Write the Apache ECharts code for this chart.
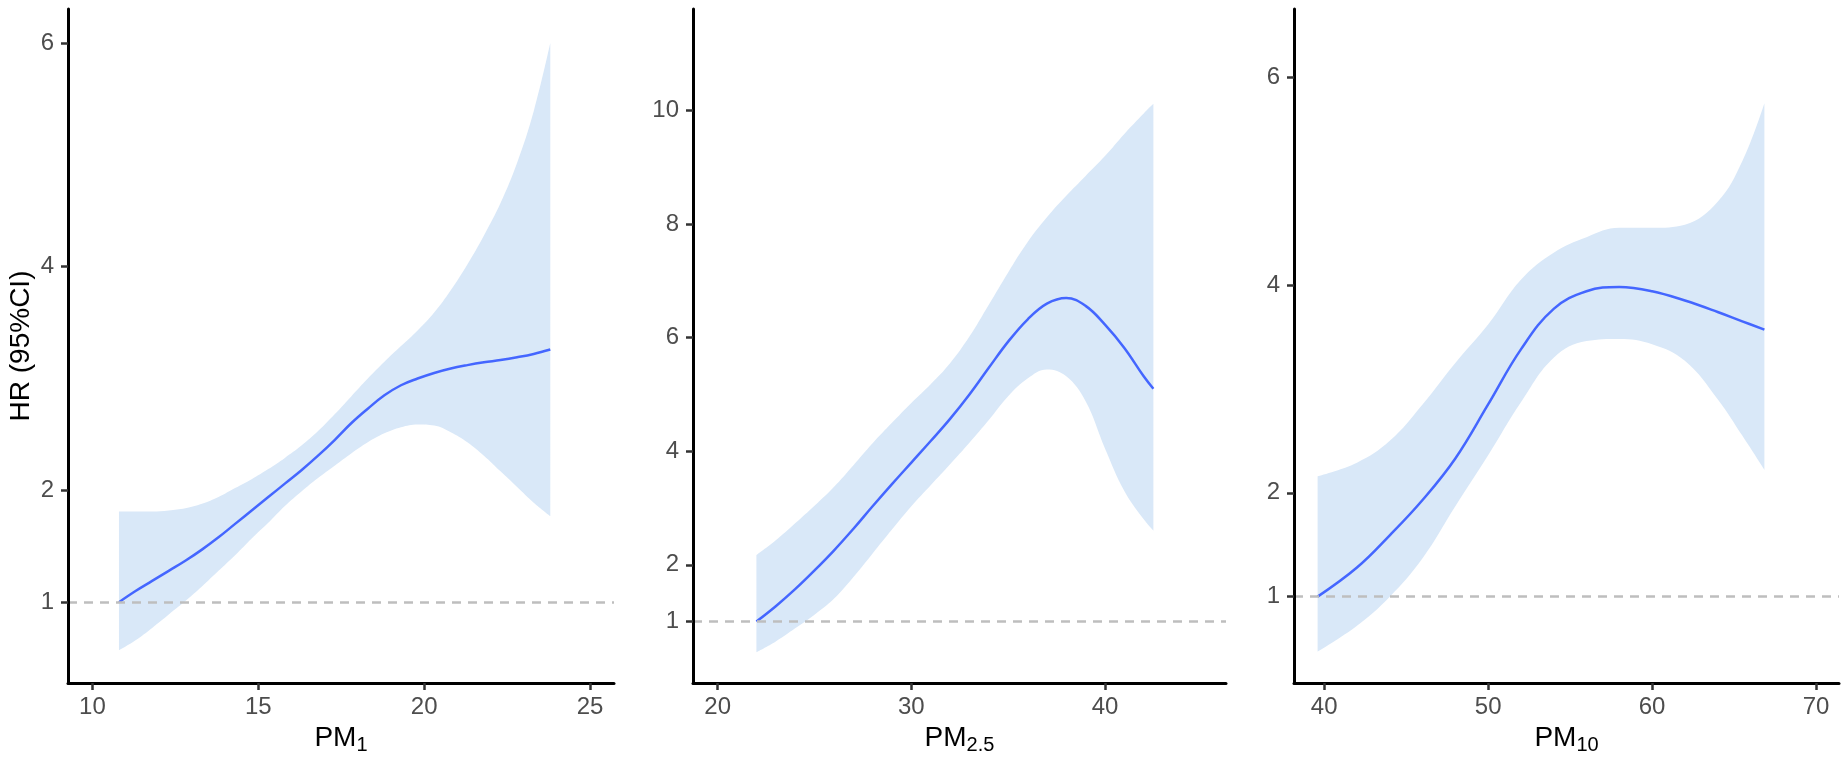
<!DOCTYPE html>
<html>
<head>
<meta charset="utf-8">
<script src="https://cdn.jsdelivr.net/npm/echarts@6/dist/echarts.min.js"></script>
<style>
html,body{margin:0;padding:0;background:#fff;}
#chart{width:1845px;height:764px;}
</style>
</head>
<body>
<div id="chart"></div>
<script>
// ---------- Panel 1: PM1 ----------
const pm1X     = [10.8, 11.3, 11.8, 12.3, 12.8, 13.3, 13.8, 14.3, 14.8, 15.3, 15.8, 16.3, 16.8, 17.3, 17.8, 18.3, 18.8, 19.3, 19.8, 20.3, 20.8, 21.3, 21.8, 22.3, 22.8, 23.3, 23.8];
const pm1Fit   = [1.00, 1.10, 1.19, 1.28, 1.37, 1.47, 1.58, 1.70, 1.82, 1.94, 2.06, 2.18, 2.31, 2.45, 2.60, 2.73, 2.85, 2.94, 3.00, 3.05, 3.09, 3.12, 3.145, 3.165, 3.19, 3.22, 3.26];
const pm1Lower = [0.57, 0.66, 0.77, 0.89, 1.01, 1.14, 1.28, 1.42, 1.57, 1.71, 1.86, 1.99, 2.11, 2.22, 2.33, 2.43, 2.51, 2.565, 2.59, 2.58, 2.52, 2.43, 2.31, 2.17, 2.03, 1.89, 1.77];
const pm1Upper = [1.81, 1.81, 1.81, 1.82, 1.84, 1.88, 1.94, 2.02, 2.10, 2.19, 2.29, 2.40, 2.53, 2.68, 2.84, 3.00, 3.15, 3.29, 3.43, 3.59, 3.79, 4.02, 4.28, 4.57, 4.93, 5.39, 6.00];
const pm1XTicks = [10, 15, 20, 25];
const pm1YTicks = [1, 2, 4, 6];

// ---------- Panel 2: PM2.5 ----------
const pm25X     = [22, 23, 24, 25, 26, 27, 28, 29, 30, 31, 32, 33, 34, 35, 36, 37, 38, 39, 40, 41, 42, 42.5];
const pm25Fit   = [1.00, 1.27, 1.57, 1.90, 2.25, 2.63, 3.03, 3.42, 3.80, 4.18, 4.57, 5.00, 5.47, 5.93, 6.32, 6.60, 6.70, 6.56, 6.23, 5.82, 5.32, 5.10];
const pm25Lower = [0.46, 0.65, 0.88, 1.12, 1.40, 1.78, 2.20, 2.62, 3.03, 3.40, 3.77, 4.15, 4.55, 4.97, 5.28, 5.44, 5.32, 4.88, 4.05, 3.30, 2.80, 2.60];
const pm25Upper = [2.17, 2.43, 2.73, 3.04, 3.37, 3.75, 4.14, 4.50, 4.85, 5.18, 5.55, 6.02, 6.58, 7.15, 7.68, 8.12, 8.50, 8.85, 9.20, 9.59, 9.95, 10.12];
const pm25XTicks = [20, 30, 40];
const pm25YTicks = [1, 2, 4, 6, 8, 10];

// ---------- Panel 3: PM10 ----------
const pm10X     = [39.6, 42, 44, 46, 48, 50, 52, 54, 56, 58, 60, 62, 64, 65.5, 66.85];
const pm10Fit   = [1.00, 1.28, 1.59, 1.93, 2.33, 2.85, 3.38, 3.77, 3.94, 3.98, 3.94, 3.85, 3.74, 3.65, 3.57];
const pm10Lower = [0.47, 0.72, 1.00, 1.37, 1.87, 2.36, 2.87, 3.30, 3.46, 3.48, 3.43, 3.27, 2.90, 2.55, 2.22];
const pm10Upper = [2.16, 2.29, 2.50, 2.85, 3.25, 3.62, 4.05, 4.31, 4.46, 4.55, 4.55, 4.58, 4.80, 5.19, 5.75];
const pm10XTicks = [40, 50, 60, 70];
const pm10YTicks = [1, 2, 4, 6];

const xTitles = ['{a|PM}{b|1}', '{a|PM}{b|2.5}', '{a|PM}{b|10}'];
const yTitle = 'HR (95%CI)';
const refValue = 1;

const FONT = "'Liberation Sans', Arial, sans-serif";
const LINE_COLOR = '#4466ff';
const BAND_COLOR = '#d9e8f8';

const panels = [
  {x: pm1X, fit: pm1Fit, lo: pm1Lower, hi: pm1Upper, xt: pm1XTicks, yt: pm1YTicks,
   xr: [9.264, 25.72], yr: [0.277, 6.305], grid: {left: 68, right: 1231}},
  {x: pm25X, fit: pm25Fit, lo: pm25Lower, hi: pm25Upper, xt: pm25XTicks, yt: pm25YTicks,
   xr: [18.725, 46.25], yr: [-0.083, 11.79], grid: {left: 693, right: 619}},
  {x: pm10X, fit: pm10Fit, lo: pm10Lower, hi: pm10Upper, xt: pm10XTicks, yt: pm10YTicks,
   xr: [38.16, 71.40], yr: [0.169, 6.656], grid: {left: 1294, right: 6}}
];

const grids = [], xAxes = [], yAxes = [], series = [];
const axisLine = {show: true, onZero: false, lineStyle: {color: '#000', width: 3}};
const axisTickStyle = {color: '#333', width: 2.5};
const SMOOTH = 0.4;

panels.forEach((p, i) => {
  grids.push({left: p.grid.left, right: p.grid.right, top: 9, bottom: 81, containLabel: false});
  xAxes.push({
    type: 'value', gridIndex: i, min: p.xr[0], max: p.xr[1], z: 10,
    axisLine: axisLine,
    axisTick: {show: true, length: 7, lineStyle: axisTickStyle, customValues: p.xt},
    axisLabel: {show: true, customValues: p.xt, color: '#4d4d4d', fontSize: 24, fontFamily: FONT, margin: 12},
    splitLine: {show: false},
    name: xTitles[i], nameLocation: 'middle', nameGap: 38,
    nameTextStyle: {
      fontFamily: FONT, color: '#000',
      rich: {
        a: {fontSize: 28, fontFamily: FONT, color: '#000', lineHeight: 34},
        b: {fontSize: 20, fontFamily: FONT, color: '#000', lineHeight: 18, verticalAlign: 'bottom'}
      }
    }
  });
  yAxes.push({
    type: 'value', gridIndex: i, min: p.yr[0], max: p.yr[1], z: 10,
    axisLine: axisLine,
    axisTick: {show: true, length: 7, lineStyle: axisTickStyle, customValues: p.yt},
    axisLabel: {show: true, customValues: p.yt, color: '#4d4d4d', fontSize: 24, fontFamily: FONT, margin: 14},
    splitLine: {show: false},
    name: i === 0 ? yTitle : '', nameLocation: 'middle', nameGap: 33,
    nameTextStyle: {fontFamily: FONT, fontSize: 28, color: '#000'}
  });

  // confidence band: the lower bound, then the band width stacked on it.
  // Columns are [value, x] so that the stacked dimension is the value.
  const stackId = 'ci' + i;
  series.push({
    type: 'line', xAxisIndex: i, yAxisIndex: i, smooth: SMOOTH, stack: stackId,
    encode: {x: 1, y: 0},
    symbol: 'none', lineStyle: {width: 0, opacity: 0}, silent: true, z: 1,
    data: p.x.map((x, k) => [p.lo[k], x])
  });
  series.push({
    type: 'line', xAxisIndex: i, yAxisIndex: i, smooth: SMOOTH, stack: stackId,
    encode: {x: 1, y: 0},
    symbol: 'none', lineStyle: {width: 0, opacity: 0}, silent: true, z: 1,
    areaStyle: {color: BAND_COLOR, opacity: 1},
    data: p.x.map((x, k) => [p.hi[k] - p.lo[k], x])
  });
  // fitted curve + reference line
  series.push({
    type: 'line', xAxisIndex: i, yAxisIndex: i, smooth: SMOOTH,
    symbol: 'none', lineStyle: {color: LINE_COLOR, width: 2.5}, silent: true, z: 3,
    data: p.x.map((x, k) => [x, p.fit[k]]),
    markLine: {
      silent: true, symbol: ['none', 'none'], animation: false,
      label: {show: false},
      lineStyle: {color: '#bebebe', width: 2.5, type: [9, 7]},
      data: [{yAxis: refValue}]
    }
  });
});

const chart = echarts.init(document.getElementById('chart'), null, {renderer: 'canvas'});
chart.setOption({
  animation: false,
  backgroundColor: '#fff',
  grid: grids, xAxis: xAxes, yAxis: yAxes, series: series
});
</script>
</body>
</html>
